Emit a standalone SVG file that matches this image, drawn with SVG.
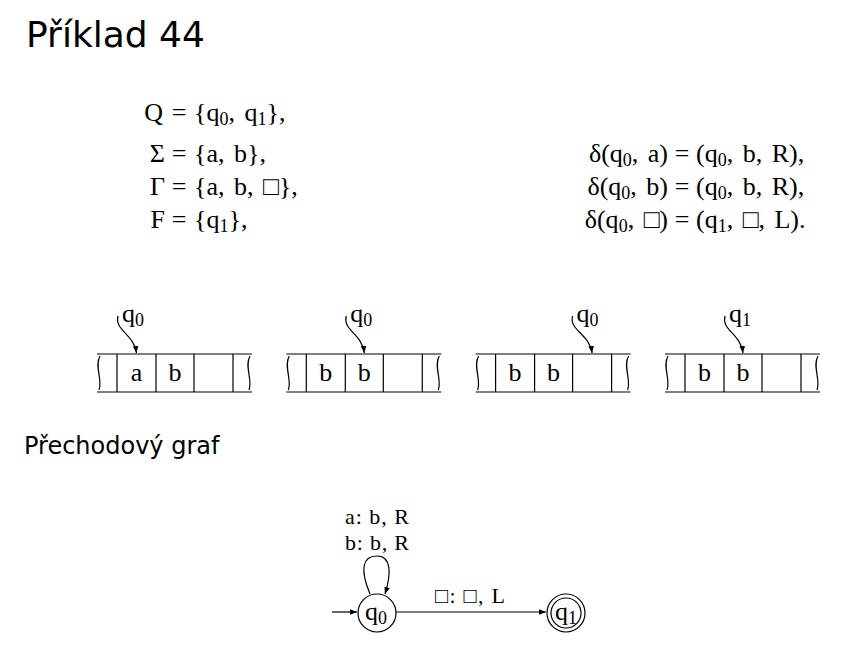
<svg xmlns="http://www.w3.org/2000/svg" width="845" height="653" viewBox="0 0 845 653">
<defs>
<style>
.title{font-family:"DejaVu Sans","Liberation Sans",sans-serif;fill:#000}
.m{font-family:"Liberation Serif","DejaVu Serif",serif;font-size:26px;fill:#000;word-spacing:3px}
.c{font-family:"Liberation Serif","DejaVu Serif",serif;font-size:26px;fill:#000;text-anchor:middle;word-spacing:3px}
.lb{font-family:"Liberation Serif","DejaVu Serif",serif;font-size:22px;fill:#000;text-anchor:middle}
.ln{stroke:#000;stroke-width:1.2;fill:none}
.s{font-size:18px}
</style>
<marker id="ah" viewBox="0 0 10 10" refX="10" refY="5" markerWidth="7" markerHeight="7" orient="auto" markerUnits="userSpaceOnUse">
<path d="M0,1 L10,5 L0,9 Z" fill="#000"/>
</marker>
<g id="tape">
<path class="ln" d="M97,354 H252 M97,392 H252 M117,354 V392 M156,354 V392 M194,354 V392 M233,354 V392"/>
<path class="ln" d="M100,356 C94,366 103,380 99,390"/>
<path class="ln" d="M250,356 C244,366 253,380 249,390"/>
</g>
</defs>

<text class="title" x="26" y="47" font-size="36">Příklad 44</text>

<g id="definitions">
<text class="m" x="163" y="121" text-anchor="end">Q</text>
<text class="c" x="179" y="121">=</text>
<text class="m" x="194" y="121">{q<tspan class="s" dy="4">0</tspan><tspan dy="-4">, q</tspan><tspan class="s" dy="4">1</tspan><tspan dy="-4">},</tspan></text>

<text class="m" x="165" y="162" text-anchor="end">Σ</text>
<text class="c" x="179" y="162">=</text>
<text class="m" x="194" y="162">{a, b},</text>

<text class="m" x="165" y="195" text-anchor="end">Γ</text>
<text class="c" x="179" y="195">=</text>
<text class="m" x="194" y="195">{a, b, □},</text>

<text class="m" x="165" y="228" text-anchor="end">F</text>
<text class="c" x="179" y="228">=</text>
<text class="m" x="194" y="228">{q<tspan class="s" dy="4">1</tspan><tspan dy="-4">},</tspan></text>

<text class="m" x="668" y="162" text-anchor="end">δ(q<tspan class="s" dy="4">0</tspan><tspan dy="-4">, a)</tspan></text>
<text class="c" x="682" y="162">=</text>
<text class="m" x="696" y="162">(q<tspan class="s" dy="4">0</tspan><tspan dy="-4">, b, R),</tspan></text>

<text class="m" x="668" y="195" text-anchor="end">δ(q<tspan class="s" dy="4">0</tspan><tspan dy="-4">, b)</tspan></text>
<text class="c" x="682" y="195">=</text>
<text class="m" x="696" y="195">(q<tspan class="s" dy="4">0</tspan><tspan dy="-4">, b, R),</tspan></text>

<text class="m" x="668" y="228" text-anchor="end">δ(q<tspan class="s" dy="4">0</tspan><tspan dy="-4">, □)</tspan></text>
<text class="c" x="682" y="228">=</text>
<text class="m" x="696" y="228">(q<tspan class="s" dy="4">1</tspan><tspan dy="-4">, □, L).</tspan></text>
</g>

<g id="tape1">
<use href="#tape"/>
<text class="c" x="136.5" y="381">a</text>
<text class="c" x="175" y="381">b</text>
<text class="m" x="122" y="322">q<tspan class="s" dy="4">0</tspan></text>
<path class="ln" d="M118,316 C114,330 134,334 136.5,353" marker-end="url(#ah)"/>
</g>
<g id="tape2" transform="translate(189.3,0)">
<use href="#tape"/>
<text class="c" x="136.5" y="381">b</text>
<text class="c" x="175" y="381">b</text>
<text class="m" x="161" y="322">q<tspan class="s" dy="4">0</tspan></text>
<path class="ln" d="M157,316 C153,330 173,334 175,353" marker-end="url(#ah)"/>
</g>
<g id="tape3" transform="translate(378.6,0)">
<use href="#tape"/>
<text class="c" x="136.5" y="381">b</text>
<text class="c" x="175" y="381">b</text>
<text class="m" x="198" y="322">q<tspan class="s" dy="4">0</tspan></text>
<path class="ln" d="M194,316 C190,330 211,334 213.5,353" marker-end="url(#ah)"/>
</g>
<g id="tape4" transform="translate(568,0)">
<use href="#tape"/>
<text class="c" x="136.5" y="381">b</text>
<text class="c" x="175" y="381">b</text>
<text class="m" x="161" y="322">q<tspan class="s" dy="4">1</tspan></text>
<path class="ln" d="M157,316 C153,330 173,334 175,353" marker-end="url(#ah)"/>
</g>

<text class="title" x="24" y="454" font-size="24">Přechodový graf</text>

<g id="edges">
<line class="ln" x1="332" y1="612" x2="357" y2="612" marker-end="url(#ah)"/>
<line class="ln" x1="396" y1="612" x2="546" y2="612" marker-end="url(#ah)"/>
<path class="ln" d="M370,594 C360,570 362,556 377,556 C392,556 391,575 385,594" marker-end="url(#ah)"/>
<text class="lb" x="377" y="524" textLength="64" lengthAdjust="spacing">a: b, R</text>
<text class="lb" x="377" y="550" textLength="64" lengthAdjust="spacing">b: b, R</text>
<text class="lb" x="470" y="603" font-size="24" textLength="70" lengthAdjust="spacing">□: □, L</text>
</g>

<g id="q0">
<circle class="ln" cx="377" cy="613" r="19"/>
<text class="m" x="365" y="620">q<tspan class="s" dy="4">0</tspan></text>
</g>
<g id="q1">
<circle class="ln" cx="566" cy="613" r="19"/>
<circle class="ln" cx="566" cy="613" r="15"/>
<text class="m" x="555" y="620">q<tspan class="s" dy="4">1</tspan></text>
</g>
</svg>
